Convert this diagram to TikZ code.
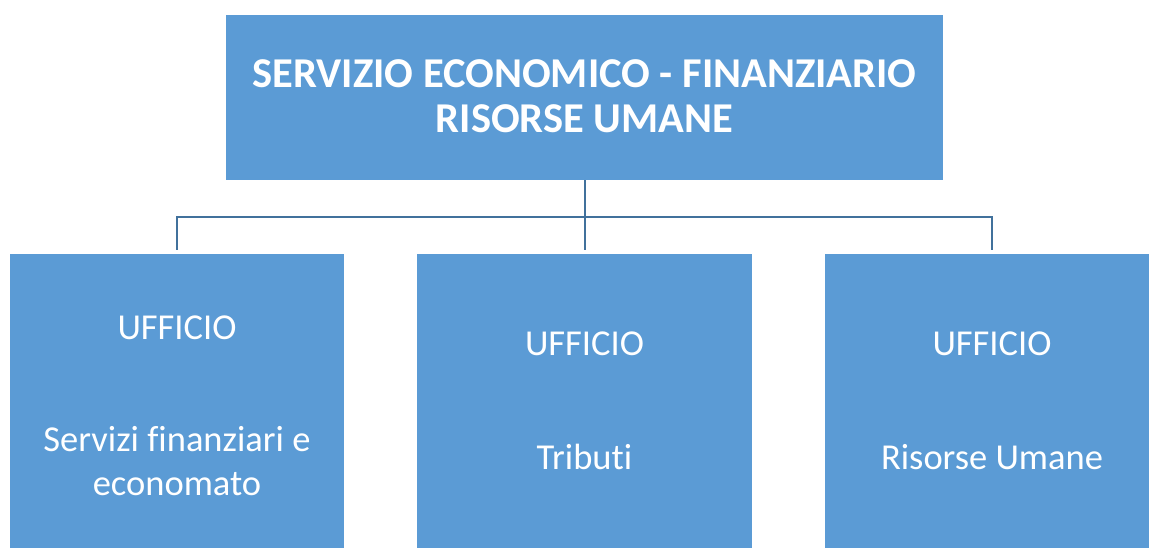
\documentclass[tikz,border=0pt]{standalone}
\usepackage{fontspec}
\setmainfont[Ligatures=NoCommon]{Carlito}
\definecolor{boxblue}{HTML}{5B9BD5}
\definecolor{lineblue}{HTML}{41719C}
\begin{document}
\begin{tikzpicture}[x=1pt,y=-1pt,
  box/.style={draw=none,fill=boxblue,inner sep=0pt,outer sep=0pt},
  conn/.style={draw=lineblue,line width=2pt},
  toptxt/.style={text=white,font=\fontsize{42.5}{45}\selectfont\bfseries,align=center,inner sep=0pt,anchor=base},
  subtxt/.style={text=white,font=\fontsize{36.5}{44}\selectfont,align=center,inner sep=0pt,anchor=base}]
\useasboundingbox (0,0) rectangle (1149,547);
\clip (0,0) rectangle (1149,547);
\node[box,minimum width=717pt,minimum height=165pt,anchor=north west] (top) at (226,15) {};
\node[box,minimum width=334pt,minimum height=300pt,anchor=north west] (b1) at (10,254) {};
\node[box,minimum width=335pt,minimum height=300pt,anchor=north west] (b2) at (417,254) {};
\node[box,minimum width=334pt,minimum height=300pt,anchor=north west] (b3) at (825,254) {};
\coordinate (j) at (584.5,217);
\draw[conn] (top.south) -- (j);
\draw[conn] (j) -| ([yshift=4pt]b1.north);
\draw[conn] (j) -| ([yshift=4pt]b3.north);
\draw[conn] (j) -- ([yshift=4pt]b2.north);
\node[toptxt] (t1) at (584.5,132) {SERVIZIO ECONOMICO - FINANZIARIO\\RISORSE UMANE};
\node[subtxt] (u1) at (177,339) {UFFICIO};
\node[subtxt] (s1) at (177,495) {Servizi finanziari e\\economato};
\node[subtxt] (u2) at (584.5,355) {UFFICIO};
\node[subtxt] (s2) at (584.5,469) {Tributi};
\node[subtxt] (u3) at (992,355) {UFFICIO};
\node[subtxt] (s3) at (992,469) {Risorse Umane};
\end{tikzpicture}
\end{document}
